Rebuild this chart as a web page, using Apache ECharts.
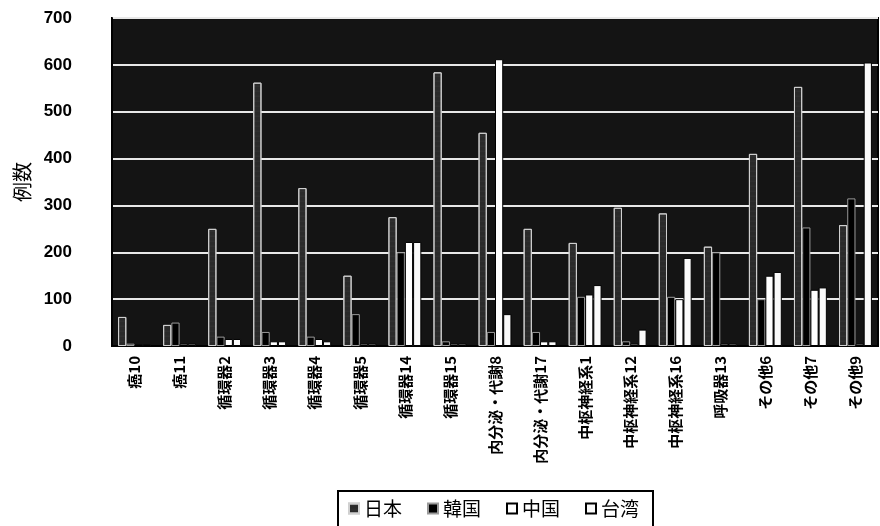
<!DOCTYPE html>
<html><head><meta charset="utf-8">
<script src="https://cdn.jsdelivr.net/npm/echarts@6/dist/echarts.min.js"></script>
<style>html,body{margin:0;padding:0;background:#fff}#c{width:880px;height:526px}</style>
</head><body><div id="c"></div>
<script>
const categories = ['癌10','癌11','循環器2','循環器3','循環器4','循環器5','循環器14','循環器15','内分泌・代謝8','内分泌・代謝17','中枢神経系1','中枢神経系12','中枢神経系16','呼吸器13','その他6','その他7','その他9'];
const japan  = [62, 45, 250, 562, 337, 150, 275, 584, 455, 250, 220, 295, 283, 212, 410, 553, 258];
const korea  = [5, 50, 20, 30, 20, 68, 200, 10, 30, 30, 105, 10, 105, 200, 100, 253, 315];
const china  = [3, 5, 15, 10, 15, 5, 222, 5, 612, 10, 110, 5, 100, 5, 150, 120, 5];
const taiwan = [3, 5, 15, 10, 10, 5, 222, 5, 68, 10, 130, 35, 188, 5, 158, 125, 605];
const yTicks = [0, 100, 200, 300, 400, 500, 600, 700];

const chart = echarts.init(document.getElementById('c'));
const cjk = '"Noto Sans CJK JP", sans-serif';
chart.setOption({
  animation: false,
  backgroundColor: '#fff',
  grid: { left: 112, right: 2, top: 18, bottom: 180, show: true, backgroundColor: '#141414', borderColor: '#000', borderWidth: 2 },
  legend: {
    bottom: -6, left: 338, itemGap: 25, itemWidth: 10, itemHeight: 10,
    icon: 'rect', borderColor: '#000', borderWidth: 2, padding: [8, 14, 14, 10],
    textStyle: { fontFamily: cjk, fontSize: 19, color: '#000' },
    data: ['日本','韓国','中国','台湾']
  },
  xAxis: {
    type: 'category', data: categories,
    axisLine: { lineStyle: { color: '#000', width: 2 } },
    axisTick: { show: false },
    axisLabel: { rotate: 90, fontFamily: cjk, fontSize: 15, fontWeight: 'bold', color: '#000', margin: 10, interval: 0 }
  },
  yAxis: {
    type: 'value', min: yTicks[0], max: yTicks[yTicks.length - 1], interval: 100,
    name: '例数', nameLocation: 'middle', nameGap: 80,
    nameTextStyle: { fontFamily: cjk, fontSize: 20, color: '#000' },
    axisLine: { show: true, lineStyle: { color: '#000', width: 2 } },
    axisTick: { show: false },
    axisLabel: { fontFamily: 'Liberation Sans, Arial', fontWeight: 'bold', fontSize: 17, color: '#000', margin: 40, align: 'right' },
    splitLine: { lineStyle: { color: '#e8e8e8', width: 2 } }
  },
  series: [
    { name: '日本', type: 'bar', data: japan, barGap: '0%', barCategoryGap: '27%',
      itemStyle: { color: '#2a2a2a', borderColor: '#d0d0d0', borderWidth: 1,
        decal: { symbol: 'circle', symbolSize: 0.4, color: 'rgba(255,255,255,0.35)', dashArrayX: [1, 0], dashArrayY: [2, 3] } } },
    { name: '韓国', type: 'bar', data: korea, itemStyle: { color: '#000', borderColor: '#9a9a9a', borderWidth: 1 } },
    { name: '中国', type: 'bar', data: china, itemStyle: { color: '#fff', borderColor: '#000', borderWidth: 1 } },
    { name: '台湾', type: 'bar', data: taiwan, itemStyle: { color: '#fafafa', borderColor: '#000', borderWidth: 1 } }
  ]
});
</script></body></html>
